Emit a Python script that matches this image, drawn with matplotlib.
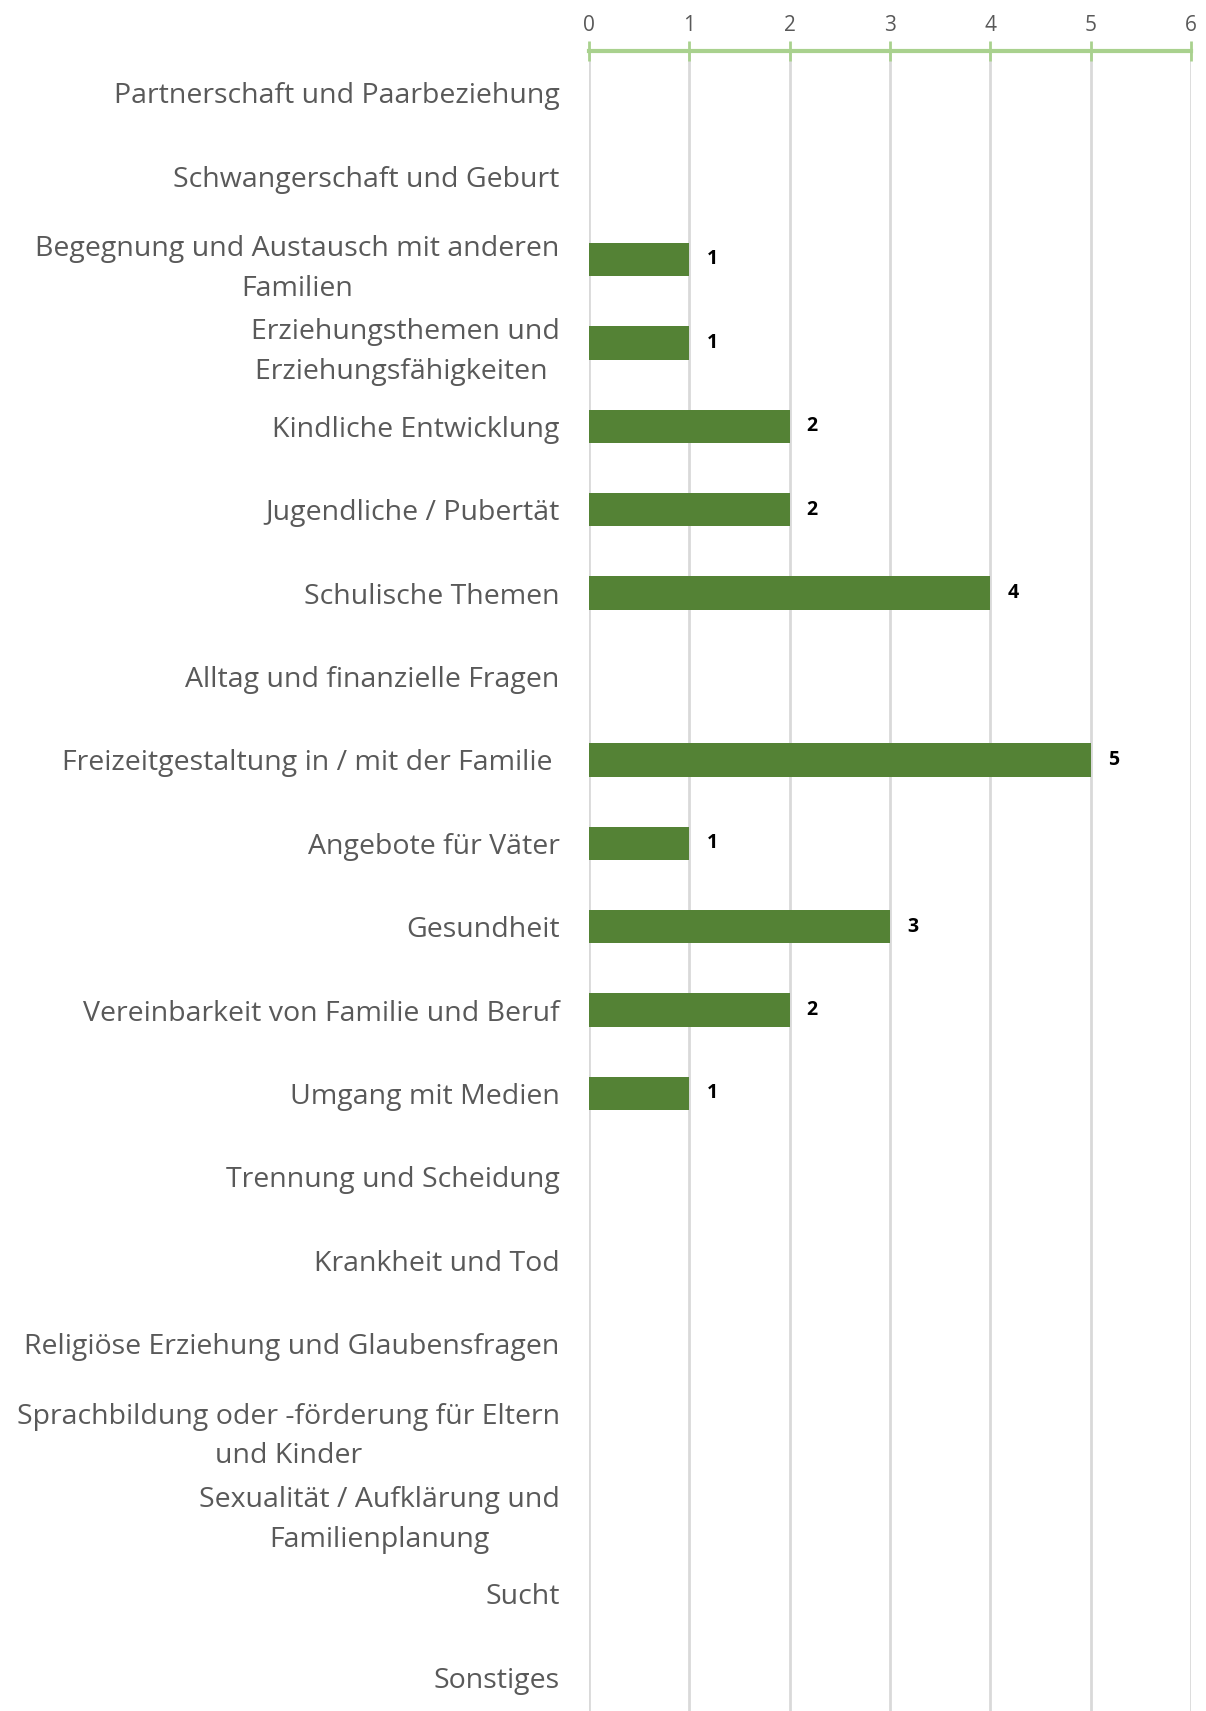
import matplotlib.pyplot as plt
import matplotlib.ticker as mticker

categories = [
    "Partnerschaft und Paarbeziehung",
    "Schwangerschaft und Geburt",
    "Begegnung und Austausch mit anderen\nFamilien",
    "Erziehungsthemen und\nErziehungsfähigkeiten ",
    "Kindliche Entwicklung",
    "Jugendliche / Pubertät",
    "Schulische Themen",
    "Alltag und finanzielle Fragen",
    "Freizeitgestaltung in / mit der Familie ",
    "Angebote für Väter",
    "Gesundheit",
    "Vereinbarkeit von Familie und Beruf",
    "Umgang mit Medien",
    "Trennung und Scheidung",
    "Krankheit und Tod",
    "Religiöse Erziehung und Glaubensfragen",
    "Sprachbildung oder -förderung für Eltern\nund Kinder",
    "Sexualität / Aufklärung und\nFamilienplanung",
    "Sucht",
    "Sonstiges",
]
values = [0, 0, 1, 1, 2, 2, 4, 0, 5, 1, 3, 2, 1, 0, 0, 0, 0, 0, 0, 0]
x_ticks = [0, 1, 2, 3, 4, 5, 6]

plt.rcParams['font.family'] = ['Open Sans', 'DejaVu Sans']

W, H = 1206, 1711
fig = plt.figure(figsize=(W / 100, H / 100), dpi=100)
top, band = 51, 83.4
height = band * len(categories)
ax = fig.add_axes([589 / W, (H - top - height) / H, (1191 - 589) / W, height / H])

pos = list(range(len(categories)))
ax.barh(pos, values, height=0.4, color='#548235', zorder=3)

for p, v in zip(pos, values):
    if v > 0:
        ax.text(v + 0.17, p, str(v), va='center', ha='left',
                fontsize=14, fontweight='bold', color='black')

ax.set_xlim(0, 6)
ax.set_ylim(len(categories) - 0.5, -0.5)
ax.set_xticks(x_ticks)
ax.xaxis.set_major_formatter(mticker.FormatStrFormatter('%d'))
ax.xaxis.tick_top()
ax.tick_params(axis='x', which='both', direction='inout', length=14, width=2,
               color='#A9D18E', labelsize=15, labelcolor='#595959', pad=4)
ax.grid(axis='x', color='#D9D9D9', linewidth=2, zorder=0)

ax.set_yticks(pos)
ax.set_yticklabels(categories, fontsize=20.5, color='#595959',
                   multialignment='center', linespacing=1.55)
ax.tick_params(axis='y', length=0, pad=21)

for s in ['left', 'right', 'bottom']:
    ax.spines[s].set_visible(False)
ax.spines['top'].set_color('#A9D18E')
ax.spines['top'].set_linewidth(3)

fig.savefig('out.png', dpi=100)
